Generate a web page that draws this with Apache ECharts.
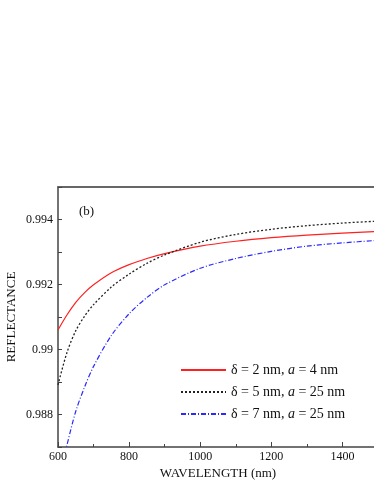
<!DOCTYPE html>
<html>
<head>
<meta charset="utf-8">
<script src="https://cdn.jsdelivr.net/npm/echarts@6/dist/echarts.min.js"></script>
<style>
html,body{margin:0;padding:0;background:#fff;}
#chart{width:374px;height:484px;}
</style>
</head>
<body>
<div id="chart"></div>
<script>
var wavelengths = [600, 625, 650, 675, 700, 750, 800, 850, 900, 1000, 1100, 1200, 1300, 1400, 1500];
var seriesNames = ['δ = 2 nm, a = 4 nm', 'δ = 5 nm, a = 25 nm', 'δ = 7 nm, a = 25 nm'];
var redValues   = [0.99060, 0.99106, 0.99145, 0.99175, 0.99199, 0.99236, 0.99261, 0.99280, 0.99295, 0.99318, 0.99333, 0.99344, 0.99352, 0.99358, 0.99363];
var blackValues = [0.98891, 0.98990, 0.99058, 0.99103, 0.99138, 0.99192, 0.99232, 0.99265, 0.99291, 0.99330, 0.99354, 0.99370, 0.99381, 0.99389, 0.99395];
var blueValues  = [0.98590, 0.98705, 0.98810, 0.98885, 0.98948, 0.99043, 0.99110, 0.99160, 0.99199, 0.99250, 0.99280, 0.99302, 0.99318, 0.99328, 0.99336];
var xTickLabels = ['600', '800', '1000', '1200', '1400'];
var yTickLabels = ['0.988', '0.99', '0.992', '0.994'];
var panelLabel = '(b)';

function pairs(vals) {
  return wavelengths.map(function (w, i) { return [w, vals[i]]; });
}
function legendFmt(name) {
  var parts = name.split('a = ');
  return '{n|' + parts[0] + '}{i|a}{n| = ' + parts[1] + '}';
}

var font = '"Liberation Serif", "DejaVu Serif", serif';
var axisColor = '#444';

var chart = echarts.init(document.getElementById('chart'), null, {renderer: 'canvas'});
chart.setOption({
  animation: false,
  backgroundColor: '#fff',
  grid: {left: 58, top: 187, right: -4, bottom: 37, containLabel: false, outerBoundsMode: 'none'},
  legend: {
    orient: 'vertical',
    left: 175,
    top: 358,
    itemWidth: 45,
    itemHeight: 14,
    itemGap: 8,
    data: seriesNames,
    formatter: legendFmt,
    itemStyle: {opacity: 0},
    textStyle: {
      fontFamily: font,
      fontSize: 14,
      color: '#111',
      rich: {
        n: {fontFamily: font, fontSize: 14, color: '#111'},
        i: {fontFamily: font, fontSize: 14, fontStyle: 'italic', color: '#111'}
      }
    }
  },
  xAxis: [{
    type: 'value',
    min: 600,
    max: 1500,
    interval: 200,
    position: 'bottom',
    name: 'WAVELENGTH (nm)',
    nameLocation: 'middle',
    nameGap: 20,
    nameMoveOverlap: false,
    nameTextStyle: {fontFamily: font, fontSize: 13, color: '#111'},
    axisLine: {show: true, lineStyle: {color: axisColor, width: 1.5}},
    axisTick: {show: true, inside: true, length: 5, lineStyle: {color: axisColor, width: 1}},
    minorTick: {show: true, splitNumber: 2, length: 3, lineStyle: {color: axisColor, width: 1}},
    axisLabel: {
      margin: 4,
      fontFamily: font, fontSize: 12, color: '#111',
      formatter: function (v) {
        var s = String(Math.round(v));
        return xTickLabels.indexOf(s) >= 0 ? s : '';
      }
    },
    splitLine: {show: false}
  }, {
    type: 'value',
    min: 600,
    max: 1500,
    position: 'top',
    axisLine: {show: true, lineStyle: {color: '#666', width: 2}},
    axisTick: {show: false},
    axisLabel: {show: false},
    splitLine: {show: false}
  }],
  yAxis: {
    type: 'value',
    min: 0.987,
    max: 0.995,
    interval: 0.001,
    name: 'REFLECTANCE',
    nameLocation: 'middle',
    nameGap: 40,
    nameMoveOverlap: false,
    nameTextStyle: {fontFamily: font, fontSize: 13, color: '#111'},
    axisLine: {show: true, lineStyle: {color: axisColor, width: 1.5}},
    axisTick: {show: true, inside: true, length: 4, lineStyle: {color: axisColor, width: 1}},
    axisLabel: {
      margin: 5,
      fontFamily: font, fontSize: 12, color: '#111',
      formatter: function (v) {
        var k = Math.round(v * 1000);
        var s = String(k / 1000);
        return yTickLabels.indexOf(s) >= 0 ? s : '';
      }
    },
    splitLine: {show: false}
  },
  graphic: [{
    type: 'text',
    left: 79,
    top: 205,
    style: {text: panelLabel, font: '13px ' + font, fill: '#111'}
  }],
  series: [{
    name: seriesNames[0],
    type: 'line',
    smooth: 0.3,
    symbol: 'none',
    data: pairs(redValues),
    lineStyle: {color: '#ff2020', width: 1.2, type: 'solid'},
    itemStyle: {color: '#ff2020'}
  }, {
    name: seriesNames[1],
    type: 'line',
    smooth: 0.3,
    symbol: 'none',
    data: pairs(blackValues),
    lineStyle: {color: '#222', width: 1.3, type: [2, 2]},
    itemStyle: {color: '#222'}
  }, {
    name: seriesNames[2],
    type: 'line',
    smooth: 0.3,
    symbol: 'none',
    data: pairs(blueValues),
    lineStyle: {color: '#2a2aff', width: 1.2, type: [5, 2, 1, 2]},
    itemStyle: {color: '#2a2aff'}
  }]
});
</script>
</body>
</html>
